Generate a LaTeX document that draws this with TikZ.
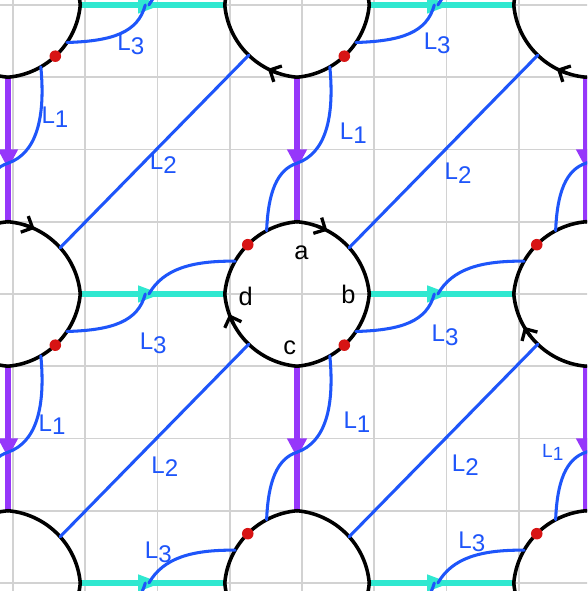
\documentclass[tikz,border=0pt]{standalone}
\usepackage{fontspec}
\setmainfont{Liberation Sans}
\usetikzlibrary{arrows.meta}
\definecolor{cyanL}{RGB}{48,232,208}
\definecolor{purpL}{RGB}{150,55,250}
\definecolor{blueL}{RGB}{30,85,250}
\definecolor{redL}{RGB}{215,20,20}
\definecolor{gridL}{RGB}{210,210,210}
\newcommand{\Lab}[1]{L\raisebox{-0.3ex}{#1}}
\def\ro{0.1355}
\def\rr{1.1}
\begin{document}
\begin{tikzpicture}[
  gridline/.style={draw=gridL, line width=0.7pt},
  cyanedge/.style={draw=cyanL, line width=2.7pt},
  purpedge/.style={draw=purpL, line width=2.2pt},
  rim/.style={draw=black, line width=1.4pt, line cap=round},
  curveL/.style={draw=blueL, line width=1.2pt, line cap=round},
  lab/.style={text=blueL, font=\fontsize{9.5}{11}\selectfont, inner sep=0pt},
  smalllab/.style={text=blueL, font=\fontsize{7.5}{9}\selectfont, inner sep=0pt},
  vlab/.style={text=black, font=\fontsize{10}{12}\selectfont, inner sep=0pt},
  rimarrow/.style={draw=black, line width=1.3pt, -{Straight Barb[length=3.5pt,width=7pt]}}
]
\useasboundingbox (-4.111,-4.111) rectangle (4.014,4.069);
\clip (-4.111,-4.111) rectangle (4.014,4.069);
\fill[white] (-4.3,-4.3) rectangle (4.3,4.3);
% grid
\foreach \k in {-5,...,4} {
  \draw[gridline] (\k+0.07,-4.3) -- (\k+0.07,4.3);
  \draw[gridline] (-4.3,\k) -- (4.3,\k);
}
% coloured edges
\foreach \m in {-2,...,1} {
  \foreach \n in {-2,...,1} {
    \draw[cyanedge] ({4*(\m)+1},{4*(\n)}) -- ({4*(\m)+3},{4*(\n)});
    \fill[cyanL] ({4*(\m)+1.8},{4*(\n)+0.12}) -- ({4*(\m)+2.12},{4*(\n)}) -- ({4*(\m)+1.8},{4*(\n)-0.12}) -- cycle;
    \draw[purpedge] ({4*(\m)},{4*(\n)+1}) -- ({4*(\m)},{4*(\n)+3});
    \fill[purpL] ({4*(\m)-0.14},{4*(\n)+2.0}) -- ({4*(\m)},{4*(\n)+1.74}) -- ({4*(\m)+0.14},{4*(\n)+2.0}) -- cycle;
  }
}
% black rims
\foreach \m in {-1,0,1} {
  \foreach \n in {-1,0,1} {
    \foreach \q in {0,1,2,3} {
      \path ({4*(\m)},{4*(\n)}) ++({90*\q+225}:\ro) ++({90*\q+4.997}:\rr) coordinate (rs);
      \draw[rim] (rs) arc[start angle={90*\q+4.997}, end angle={90*\q+85.003}, radius=\rr];
    }
  }
}
% blue curves
\foreach \m in {-2,...,1} {
  \foreach \n in {-2,...,1} {
    \begin{scope}[shift={({4*(\m)},{4*(\n)})}]
      \path (0,0) ++(225:\ro) ++(42:\rr) coordinate (s2);
      \path (4,4) ++(45:\ro) ++(226:\rr) coordinate (e2);
      \draw[curveL] (s2) -- (e2);
      \path (0,4) ++(135:\ro) ++(300:\rr) coordinate (e1a);
      \draw[curveL] (0,1.81) .. controls (0.4,1.95) and (0.52,2.45) .. (e1a);
      \path (4,0) ++(315:\ro) ++(118:\rr) coordinate (e1b);
      \draw[curveL] (4,1.81) .. controls (3.72,1.72) and (3.6,1.4) .. (e1b);
      \path (0,4) ++(135:\ro) ++(326:\rr) coordinate (e3a);
      \draw[curveL] (1.9,4) .. controls (1.8,3.62) and (1.45,3.5) .. (e3a);
      \path (4,0) ++(315:\ro) ++(150:\rr) coordinate (e3b);
      \draw[curveL] (1.95,0) .. controls (2.15,0.35) and (2.55,0.46) .. (e3b);
    \end{scope}
  }
}
% red dots
\foreach \m in {-1,0,1} {
  \foreach \n in {-1,0,1} {
    \path ({4*(\m)},{4*(\n)}) ++(135:\ro) ++(313:\rr) coordinate (rd1);
    \path ({4*(\m)},{4*(\n)}) ++(315:\ro) ++(135:\rr) coordinate (rd2);
    \fill[redL] (rd1) circle (0.08);
    \fill[redL] (rd2) circle (0.08);
  }
}
% arrows on rims
\path (0,0) ++(225:\ro) ++(70:\rr) coordinate (ar1);
\draw[rimarrow] (ar1) arc[start angle=70, end angle=62, radius=\rr];
\path (-4,0) ++(225:\ro) ++(73:\rr) coordinate (ar2);
\draw[rimarrow] (ar2) arc[start angle=73, end angle=65, radius=\rr];
\path (0,0) ++(45:\ro) ++(208:\rr) coordinate (ar3);
\draw[rimarrow] (ar3) arc[start angle=208, end angle=200, radius=\rr];
\path (0,4) ++(45:\ro) ++(251:\rr) coordinate (ar4);
\draw[rimarrow] (ar4) arc[start angle=251, end angle=243, radius=\rr];
\path (4,4) ++(45:\ro) ++(251:\rr) coordinate (ar5);
\draw[rimarrow] (ar5) arc[start angle=251, end angle=243, radius=\rr];
\path (4,0) ++(45:\ro) ++(218:\rr) coordinate (ar6);
\draw[rimarrow] (ar6) arc[start angle=218, end angle=210, radius=\rr];
% vertex labels
\node[vlab] (la) at (0.06,0.57) {a};
\node[vlab] (lb) at (0.71,-0.01) {b};
\node[vlab] (lc) at (-0.1,-0.75) {c};
\node[vlab] (ld) at (-0.71,-0.04) {d};
% curve labels
\node[lab] (tl3) at (-2.30,3.45) {\Lab{3}};
\node[lab] (tl1) at (-3.35,2.45) {\Lab{1}};
\node[lab] (tl2) at (-1.85,1.81) {\Lab{2}};
\node[lab] (tr3) at (1.94,3.47) {\Lab{3}};
\node[lab] (tr1) at (0.78,2.23) {\Lab{1}};
\node[lab] (tr2) at (2.23,1.67) {\Lab{2}};
\node[lab] (bl3) at (-1.99,-0.68) {\Lab{3}};
\node[lab] (bl1) at (-3.39,-1.81) {\Lab{1}};
\node[lab] (bl2) at (-1.83,-2.39) {\Lab{2}};
\node[lab] (bl3b) at (-1.92,-3.58) {\Lab{3}};
\node[lab] (br3) at (2.05,-0.57) {\Lab{3}};
\node[lab] (br1) at (0.83,-1.77) {\Lab{1}};
\node[lab] (br2) at (2.33,-2.37) {\Lab{2}};
\node[lab] (br3b) at (2.42,-3.43) {\Lab{3}};
\node[smalllab] (br1r) at (3.54,-2.20) {\Lab{1}};
\end{tikzpicture}
\end{document}
